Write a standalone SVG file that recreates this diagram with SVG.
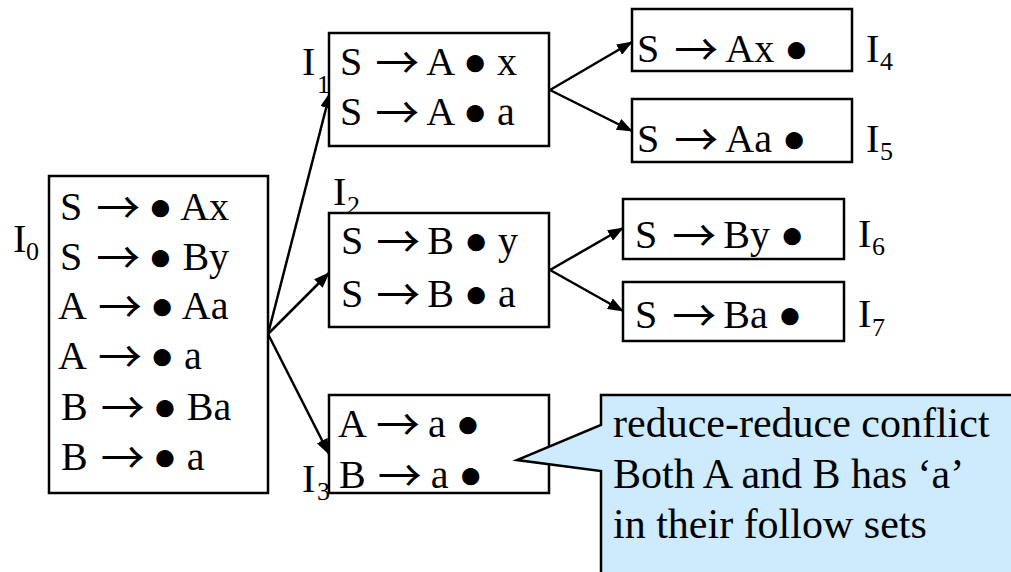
<svg xmlns="http://www.w3.org/2000/svg" width="1011" height="572" viewBox="0 0 1011 572">
<defs>
<style>
.box{fill:#fff;stroke:#000;stroke-width:2.5}
.t{font-size:40px;fill:#000}
.sub{font-size:26px}
.ar{font-family:"Noto Sans CJK SC",sans-serif;font-size:44px}
.ct{font-size:42px;fill:#000}
.edge{stroke:#000;stroke-width:2.5;fill:none;marker-end:url(#ah)}
.call{fill:#cdebfd;stroke:#000;stroke-width:2.5}
</style>
<marker id="ah" markerUnits="userSpaceOnUse" markerWidth="16" markerHeight="12" refX="15" refY="6" orient="auto">
<path d="M0,0 L16,6 L0,12 z" fill="#000"/>
</marker>
</defs>
<rect width="1011" height="572" fill="#fff"/>
<g id="connectors">
<line class="edge" x1="268" y1="334" x2="330" y2="93"/>
<line class="edge" x1="268" y1="334" x2="329" y2="273"/>
<line class="edge" x1="268" y1="334" x2="329" y2="454"/>
<line class="edge" x1="550" y1="90" x2="632" y2="42"/>
<line class="edge" x1="550" y1="90" x2="632" y2="131"/>
<line class="edge" x1="550" y1="270" x2="623" y2="228"/>
<line class="edge" x1="550" y1="270" x2="623" y2="311"/>
</g>
<g font-family="'Liberation Serif', 'DejaVu Serif', serif">
<g id="I0">
<rect class="box" x="49" y="176" width="219" height="317"/>
<text class="t" x="60" y="220">S<tspan class="ar" dx="14" dy="4">→</tspan><tspan dx="8" dy="-4">●</tspan> Ax</text>
<text class="t" x="60" y="270">S<tspan class="ar" dx="14" dy="4">→</tspan><tspan dx="8" dy="-4">●</tspan> By</text>
<text class="t" x="58" y="319">A<tspan class="ar" dx="11" dy="4">→</tspan><tspan dx="8" dy="-4">●</tspan> Aa</text>
<text class="t" x="58" y="369">A<tspan class="ar" dx="11" dy="4">→</tspan><tspan dx="8" dy="-4">●</tspan> a</text>
<text class="t" x="61" y="420">B<tspan class="ar" dx="13" dy="4">→</tspan><tspan dx="8" dy="-4">●</tspan> Ba</text>
<text class="t" x="61" y="470">B<tspan class="ar" dx="13" dy="4">→</tspan><tspan dx="8" dy="-4">●</tspan> a</text>
<text class="t" x="13" y="252">I<tspan class="sub" x="26" y="260">0</tspan></text>
</g>
<g id="I1">
<rect class="box" x="329" y="33" width="220" height="113"/>
<text class="t" x="340" y="75">S<tspan class="ar" dx="13" dy="4">→</tspan><tspan dx="7" dy="-4">A ● x</tspan></text>
<text class="t" x="340" y="125">S<tspan class="ar" dx="13" dy="4">→</tspan><tspan dx="7" dy="-4">A ● a</tspan></text>
<text class="t" x="302" y="75">I<tspan class="sub" x="317" y="93">1</tspan></text>
</g>
<g id="I2">
<rect class="box" x="329" y="213" width="220" height="114"/>
<text class="t" x="341" y="254">S<tspan class="ar" dx="13" dy="4">→</tspan><tspan dx="7" dy="-4">B ● y</tspan></text>
<text class="t" x="341" y="307">S<tspan class="ar" dx="13" dy="4">→</tspan><tspan dx="7" dy="-4">B ● a</tspan></text>
<text class="t" x="333" y="205">I<tspan class="sub" x="347" y="214">2</tspan></text>
</g>
<g id="I3">
<rect class="box" x="329" y="395" width="220" height="98"/>
<text class="t" x="338" y="437">A<tspan class="ar" dx="9" dy="4">→</tspan><tspan dx="8" dy="-4">a ●</tspan></text>
<text class="t" x="339" y="488">B<tspan class="ar" dx="12" dy="4">→</tspan><tspan dx="9" dy="-4">a ●</tspan></text>
<text class="t" x="302" y="492">I<tspan class="sub" x="317" y="500">3</tspan></text>
</g>
<g id="I4">
<rect class="box" x="632" y="9" width="220" height="62"/>
<text class="t" x="637" y="62">S<tspan class="ar" dx="15" dy="4">→</tspan><tspan dx="7" dy="-4">Ax ●</tspan></text>
<text class="t" x="866" y="62">I<tspan class="sub" x="880" y="70">4</tspan></text>
</g>
<g id="I5">
<rect class="box" x="632" y="99" width="220" height="63"/>
<text class="t" x="637" y="152">S<tspan class="ar" dx="15" dy="4">→</tspan><tspan dx="7" dy="-4">Aa ●</tspan></text>
<text class="t" x="866" y="152">I<tspan class="sub" x="880" y="160">5</tspan></text>
</g>
<g id="I6">
<rect class="box" x="623" y="199" width="221" height="60"/>
<text class="t" x="635" y="248">S<tspan class="ar" dx="15" dy="4">→</tspan><tspan dx="7" dy="-4">By ●</tspan></text>
<text class="t" x="858" y="247">I<tspan class="sub" x="872" y="255">6</tspan></text>
</g>
<g id="I7">
<rect class="box" x="623" y="282" width="221" height="59"/>
<text class="t" x="635" y="328">S<tspan class="ar" dx="15" dy="4">→</tspan><tspan dx="7" dy="-4">Ba ●</tspan></text>
<text class="t" x="858" y="327">I<tspan class="sub" x="872" y="336">7</tspan></text>
</g>
<g id="callout">
<polygon class="call" points="601,395 1015,395 1015,580 601,580 601,471 517,460 601,425"/>
<text class="ct" x="613" y="437">reduce-reduce conflict</text>
<text class="ct" x="613" y="488">Both A and B has ‘a’</text>
<text class="ct" x="613" y="538">in their follow sets</text>
</g>
</g>
</svg>
